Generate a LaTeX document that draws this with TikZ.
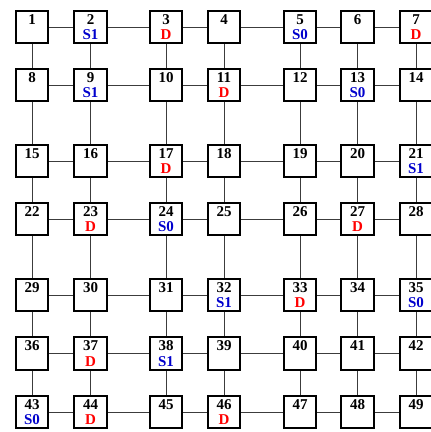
\documentclass[tikz,border=0pt]{standalone}
\usepackage{fontspec}
\setmainfont{Liberation Serif}
\begin{document}
\begin{tikzpicture}[x=1pt,y=-1pt,
  cell/.style={draw=black,line width=2pt,fill=white,minimum size=32.5pt,inner sep=0pt},
  num/.style={font=\fontsize{15}{15}\selectfont\bfseries,anchor=base,inner sep=0pt},
  tagS/.style={font=\fontsize{15}{15}\selectfont\bfseries,anchor=base,inner sep=0pt,text={rgb,255:red,0;green,0;blue,205}},
  tagD/.style={font=\fontsize{15}{15}\selectfont\bfseries,anchor=base,inner sep=0pt,text={rgb,255:red,255;green,0;blue,0}},
  link/.style={draw={rgb,255:red,60;green,60;blue,60},line width=1pt}]
\useasboundingbox (0,0) rectangle (431,432);
\clip (0,0) rectangle (431,432);
\def\xs{{32,90.5,166,224,300,357.5,416}}
\def\ys{{27,85,161,219,295,353.5,412}}
\foreach \r in {0,...,6}{
  \foreach \c in {0,...,6}{
    \pgfmathsetmacro{\px}{\xs[\c]}
    \pgfmathsetmacro{\py}{\ys[\r]}
    \pgfmathtruncatemacro{\n}{7*\r+\c+1}
    \coordinate (p\n) at (\px,\py);
  }
}
% connectors
\foreach \r in {0,...,6}{
  \foreach \c in {1,...,6}{
    \pgfmathtruncatemacro{\a}{7*\r+\c}
    \pgfmathtruncatemacro{\b}{7*\r+\c+1}
    \draw[link] (p\a) -- (p\b);
  }
}
\foreach \r in {0,...,5}{
  \foreach \c in {1,...,7}{
    \pgfmathtruncatemacro{\a}{7*\r+\c}
    \pgfmathtruncatemacro{\b}{7*\r+\c+7}
    \draw[link] (p\a) -- (p\b);
  }
}
% boxes
\foreach \n in {1,...,49}{
  \node[cell] (n\n) at (p\n) {};
  \node[num] (t\n) at ([yshift=2.8pt]n\n.center) {\n};
}
% tags
\foreach \n/\s in {2/S1,5/S0,9/S1,13/S0,21/S1,24/S0,32/S1,35/S0,38/S1,43/S0}{
  \node[tagS] (s\n) at ([yshift=-12.5pt]n\n.center) {\s};
}
\foreach \n in {3,7,11,17,23,27,33,37,44,46}{
  \node[tagD] (d\n) at ([yshift=-12.5pt]n\n.center) {D};
}
\end{tikzpicture}
\end{document}
